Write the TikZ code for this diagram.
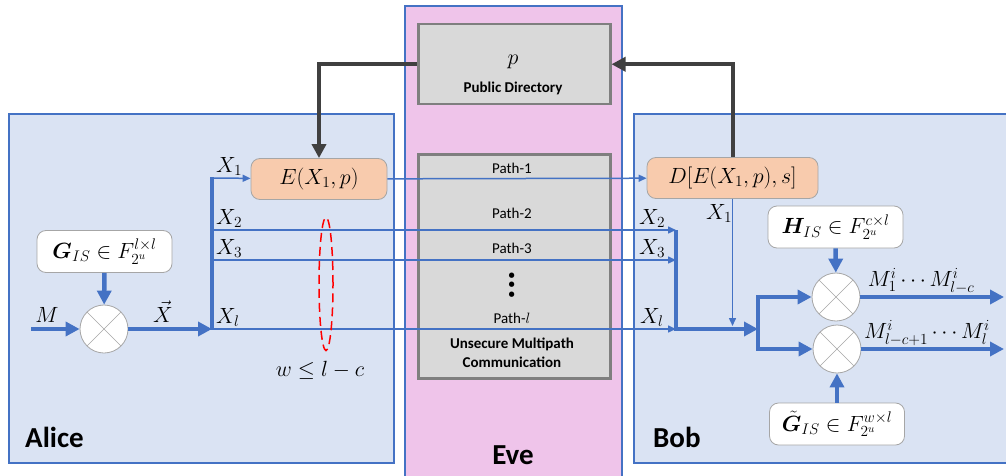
\RequirePackage{fix-cm}
\documentclass[tikz,border=0pt]{standalone}
\usepackage{amsmath}
\usepackage{bm}
\usepackage{fontspec}
\setsansfont{Carlito}
\usetikzlibrary{arrows.meta,shapes.geometric,calc}
\definecolor{bfill}{HTML}{DAE3F3}
\definecolor{bline}{HTML}{4472C4}
\definecolor{pinkfill}{HTML}{EFC4EA}
\definecolor{peach}{HTML}{F8CBAD}
\definecolor{gfill}{HTML}{D9D9D9}
\definecolor{gline}{HTML}{7F7F7F}
\definecolor{darkg}{HTML}{404040}
\tikzset{
 panel/.style={draw=bline, line width=2.2, anchor=north west, inner sep=0},
 gbox/.style={draw=gline, fill=gfill, line width=2.5, anchor=north west, inner sep=0},
 opbox/.style={draw=gray!70, fill=peach, rounded corners=9, minimum height=41, inner sep=0, line width=0.8, font=\fontsize{22}{24}\selectfont},
 mbox/.style={draw=gray!70, fill=white, rounded corners=9, minimum height=42, minimum width=135, inner sep=0, line width=0.8, font=\fontsize{22}{24}\selectfont},
 mult/.style={circle, draw=gray!70, fill=white, minimum size=48, inner sep=0, line width=0.8,
   path picture={\draw[gray!70, line width=0.6] (path picture bounding box.north west) -- (path picture bounding box.south east) (path picture bounding box.north east) -- (path picture bounding box.south west);}},
 bthin/.style={draw=bline, line width=1.5},
 bthinarr/.style={bthin, -{Triangle[length=8pt,width=7pt]}},
 bthick/.style={draw=bline, line width=4.5},
 bthickarr/.style={bthick, -{Triangle[length=14pt,width=14pt]}},
 darkarr/.style={draw=darkg, line width=4, -{Triangle[length=14pt,width=14pt]}},
 mathlbl/.style={inner sep=0, font=\fontsize{22}{24}\selectfont},
 pathlbl/.style={inner sep=0, font=\sffamily\fontsize{15}{19}\selectfont},
 boldlbl/.style={inner sep=0, align=center, font=\sffamily\bfseries\fontsize{15}{19}\selectfont},
 biglbl/.style={inner sep=0, font=\sffamily\bfseries\fontsize{29}{32}\selectfont},
}
\begin{document}
\begin{tikzpicture}[x=1pt,y=-1pt]
\useasboundingbox (0,0) rectangle (1006,476);
\clip (0,0) rectangle (1006,476);
% panels
\node[panel, fill=bfill, minimum width=385, minimum height=349] (alice) at (8,113) {};
\node[panel, fill=pinkfill, minimum width=217, minimum height=500] (eve) at (404,5) {};
\node[panel, fill=bfill, minimum width=400, minimum height=349] (bob) at (633,113) {};
\node[biglbl, anchor=west] (alicel) at (25,437) {Alice};
\node[biglbl, anchor=west] (bobl) at (653,437) {Bob};
\node[biglbl] (evel) at (513,455) {Eve};
% Eve boxes
\node[gbox, minimum width=192, minimum height=80] (pd) at (417,23) {};
\node[gbox, minimum width=192, minimum height=224] (mp) at (417,153) {};
\node[mathlbl] (pl) at (513,62) {$p$};
\node[boldlbl] (pdl) at (513,88) {Public Directory};
\node[pathlbl] (p1) at (512,168) {Path-1};
\node[pathlbl] (p2) at (512,213) {Path-2};
\node[pathlbl] (p3) at (512,248) {Path-3};
\node[inner sep=0, rotate=90, anchor=base, font=\sffamily\bfseries\fontsize{36}{38}\selectfont] (vd) at (514.5,285) {...};
\node[pathlbl] (pl2) at (512,318) {Path-$l$};
\node[boldlbl] (uml) at (512,353) {Unsecure Multipath\\Communication};
% Alice
\node[opbox, minimum width=136] (E) at (319,179) {$E(X_1,p)$};
\node[mbox] (G) at (104.5,251.5) {$\bm{G}_{IS}\in F_{2^u}^{l\times l}$};
\node[mult] (c0) at (104,329) {};
% Bob
\node[opbox, minimum width=171] (D) at (732.5,178) {$D[E(X_1,p),s]$};
\node[mbox] (H) at (835.5,227) {$\bm{H}_{IS}\in F_{2^u}^{c\times l}$};
\node[mbox] (Gt) at (837,424) {$\tilde{\bm{G}}_{IS}\in F_{2^u}^{w\times l}$};
\node[mult] (c1) at (836,297) {};
\node[mult] (c2) at (837,349) {};
% coordinates
\coordinate (m0) at (31,329);
\coordinate (a1) at (212,178);
\coordinate (a2) at (212,230);
\coordinate (a3) at (212,260);
\coordinate (al) at (212,329);
\coordinate (b2) at (676,230);
\coordinate (b3) at (676,260);
\coordinate (bl) at (676,329);
\coordinate (jn) at (758,329);
\coordinate (j1) at (758,297);
\coordinate (j2) at (758,349);
\coordinate (o1) at (1004,297);
\coordinate (o2) at (1004,349);
\coordinate (x1e) at (732,326);
% Alice connectors
\draw[bthickarr] (m0) -- (c0);
\draw[bthickarr] (c0) -- (al);
\draw[bthickarr] (G) -- (c0);
\draw[bthinarr] (a1) -- (E);
\draw[bthinarr] (E) -- (D);
\draw[bthinarr] (a2) -- (b2);
\draw[bthinarr] (a3) -- (b3);
\draw[bthinarr] (al) -- (bl);
\draw[bthick] ($(a1)+(0,-1)$) -- ($(al)+(0,1)$);
% Bob connectors
\draw[bthick] (b2) -- ($(bl)+(0,1)$);
\draw[bthickarr] ($(bl)+(-2,0)$) -- (jn);
\draw[bthick, line cap=rect] (j1) -- (j2);
\draw[bthickarr] (j1) -- (c1);
\draw[bthickarr] (j2) -- (c2);
\draw[bthickarr] (H) -- (c1);
\draw[bthickarr] (Gt) -- (c2);
\draw[bthickarr] (c1) -- (o1);
\draw[bthickarr] (c2) -- (o2);
\draw[bthinarr] (D.south) -- (D.south |- x1e);
% dark arrows
\draw[darkarr] (pd.west) -| (E.north);
\draw[darkarr] (D.north) |- (pd.east);
% ellipse
\node[draw=red, dash pattern=on 9pt off 5pt, ellipse, line width=1.5, minimum width=14, minimum height=133, inner sep=0] (ell) at (326,284) {};
% labels
\node[mathlbl] (wl) at (320,370) {$w\le l-c$};
\node[mathlbl, anchor=south west] (lx1) at (216,176) {$X_1$};
\node[mathlbl, anchor=south west] (lx2) at (216,228) {$X_2$};
\node[mathlbl, anchor=south west] (lx3) at (216,258) {$X_3$};
\node[mathlbl, anchor=south west] (lxl) at (216,327) {$X_l$};
\node[mathlbl, anchor=south west] (rx2) at (639,228) {$X_2$};
\node[mathlbl, anchor=south west] (rx3) at (639,258) {$X_3$};
\node[mathlbl, anchor=south west] (rxl) at (640,327) {$X_l$};
\node[mathlbl, anchor=north west] (rx1) at (706,204) {$X_1$};
\node[mathlbl, anchor=base] (ml) at (47,322) {$M$};
\node[mathlbl, anchor=base] (xv) at (163,322) {$\vec{X}$};
\node[mathlbl, anchor=south] (o1l) at (921,294) {$M_1^i\cdots M_{l-c}^i$};
\node[mathlbl, anchor=south] (o2l) at (927,346) {$M_{l-c+1}^i\cdots M_l^i$};
\end{tikzpicture}
\end{document}
